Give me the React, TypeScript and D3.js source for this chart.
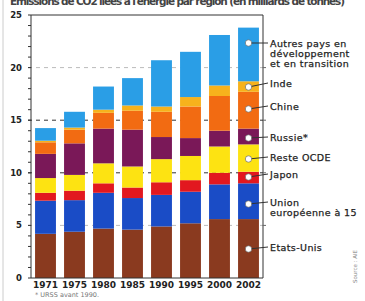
import React from "react";
import * as d3 from "d3";

const years = ["1971", "1975", "1980", "1985", "1990", "1995", "2000", "2002"];
const seriesNames = [
  "Etats-Unis",
  "Union européenne à 15",
  "Japon",
  "Reste OCDE",
  "Russie*",
  "Chine",
  "Inde",
  "Autres pays en développement et en transition",
];
const etatsUnis = [4.2, 4.4, 4.7, 4.6, 4.9, 5.2, 5.6, 5.6];
const ue15 = [3.15, 3.0, 3.4, 3.0, 3.0, 3.0, 3.3, 3.4];
const japon = [0.75, 0.9, 0.9, 1.0, 1.2, 1.1, 1.1, 1.1];
const resteOCDE = [1.4, 1.5, 1.9, 2.0, 2.2, 2.3, 2.5, 2.6];
const russie = [2.3, 3.0, 3.3, 3.5, 2.1, 1.7, 1.5, 1.5];
const chine = [1.1, 1.3, 1.5, 1.8, 2.4, 3.0, 3.3, 3.5];
const inde = [0.15, 0.2, 0.3, 0.5, 0.5, 0.9, 1.0, 1.0];
const autres = [1.2, 1.5, 2.2, 2.6, 4.4, 4.3, 4.8, 5.1];
const yTicks = [0, 5, 10, 15, 20, 25];
const legendLabels = [
  ["Autres pays en", "développement", "et en transition"],
  ["Inde"],
  ["Chine"],
  ["Russie*"],
  ["Reste OCDE"],
  ["Japon"],
  ["Union", "européenne à 15"],
  ["Etats-Unis"],
];
const footnote = "* URSS avant 1990.";
const source = "Source : AIE";
const title = "Émissions de CO2 liées à l'énergie par région (en milliards de tonnes)";

const colors = ["#8a3a1f", "#1a4cc6", "#e2181f", "#fde312", "#7a1858", "#f26b12", "#f7b21c", "#2a9ee6"];

export default function App() {
  const W = 365, H = 301;
  const left = 31, right = 263, top = 15, bottom = 278;
  const x = d3.scaleBand<string>().domain(years).range([left, right]).paddingInner(0.28).paddingOuter(0.14);
  const y = d3.scaleLinear().domain([0, 25]).range([bottom, top]);
  const table = years.map((yr, i) => {
    const o: any = { year: yr };
    const arrs = [etatsUnis, ue15, japon, resteOCDE, russie, chine, inde, autres];
    seriesNames.forEach((s, k) => (o[s] = arrs[k][i]));
    return o;
  });
  const stacked = d3.stack<any>().keys(seriesNames)(table);
  // layout for legend (pixel positions of labels and dots)
  const labelY = [43, 83, 106, 137, 157, 174, 202, 247];
  const dotY = [43, 87, 109, 138, 159, 177, 204, 249];
  const lastX = (x("2002") as number) + x.bandwidth() / 2;
  const minorTicks = d3.range(0, 26);
  const font = "'DejaVu Sans', sans-serif";

  return (
    <svg width={W} height={H} style={{ position: "absolute", left: 0, top: 0, background: "#fff" }}>
      <rect x={0} y={0} width={W} height={H} fill="#fff" />
      <line x1={3} x2={3} y1={0} y2={H} stroke="#ccc" strokeWidth={1} />
      <text x={10} y={5} fontFamily={font} fontWeight="bold" fontSize={10.5} fill="#444" textLength={335}>
        {title}
      </text>
      {/* gridlines */}
      {[5, 10, 15, 20].map((v) => (
        <line
          key={v}
          x1={left - 3}
          x2={right}
          y1={y(v)}
          y2={y(v)}
          stroke={v === 10 || v === 15 ? "#333" : "#bbb"}
          strokeWidth={1}
          strokeDasharray="4 4"
        />
      ))}
      {/* bars */}
      {stacked.map((layer, k) => (
        <g key={layer.key} fill={colors[k]}>
          {layer.map((d, i) => (
            <rect
              key={i}
              x={x(years[i]) as number}
              width={x.bandwidth()}
              y={y(d[1])}
              height={y(d[0]) - y(d[1])}
            />
          ))}
        </g>
      ))}
      {/* frame */}
      <line x1={left} x2={left} y1={top} y2={bottom} stroke="#333" strokeWidth={1} />
      <line x1={left} x2={right} y1={top} y2={top} stroke="#333" strokeWidth={1} />
      <line x1={right} x2={right} y1={top} y2={bottom} stroke="#333" strokeWidth={1} />
      <line x1={left} x2={right} y1={bottom} y2={bottom} stroke="#333" strokeWidth={1} />
      {minorTicks.map((v) => (
        <line key={v} x1={left - 3} x2={left} y1={y(v)} y2={y(v)} stroke="#333" strokeWidth={1} />
      ))}
      {[5, 10, 15, 20].map((v) => (
        <line key={"r" + v} x1={right} x2={right + 3} y1={y(v)} y2={y(v)} stroke="#666" strokeWidth={1} />
      ))}
      {yTicks.map((v) => (
        <text key={v} x={22} y={y(v) + 3} textAnchor="end" fontFamily={font} fontWeight="bold" fontSize={8.5} fill="#222">
          {v}
        </text>
      ))}
      {years.map((yr) => (
        <text
          key={yr}
          x={(x(yr) as number) + x.bandwidth() / 2}
          y={288}
          textAnchor="middle"
          fontFamily={font}
          fontWeight="bold"
          fontSize={9}
          fill="#222"
        >
          {yr}
        </text>
      ))}
      {/* legend */}
      {legendLabels.map((lines, k) => (
        <g key={k}>
          <line x1={lastX} x2={268} y1={dotY[k]} y2={labelY[k]} stroke="#333" strokeWidth={1} />
          <circle cx={lastX} cy={dotY[k]} r={3.2} fill="#fff" stroke="#555" strokeWidth={0.6} />
          {lines.map((ln, j) => (
            <text
              key={j}
              x={270}
              y={labelY[k] + 3.5 + j * 10}
              fontFamily={font}
              fontSize={9.5}
              letterSpacing={0.4}
              fill="#222"
              stroke="#222"
              strokeWidth={0.25}
            >
              {ln}
            </text>
          ))}
        </g>
      ))}
      <text x={35} y={297} fontFamily={font} fontSize={6.5} fill="#777">
        {footnote}
      </text>
      <text
        transform="translate(357,283) rotate(-90)"
        fontFamily={font}
        fontSize={5.5}
        fill="#888"
      >
        {source}
      </text>
    </svg>
  );
}
